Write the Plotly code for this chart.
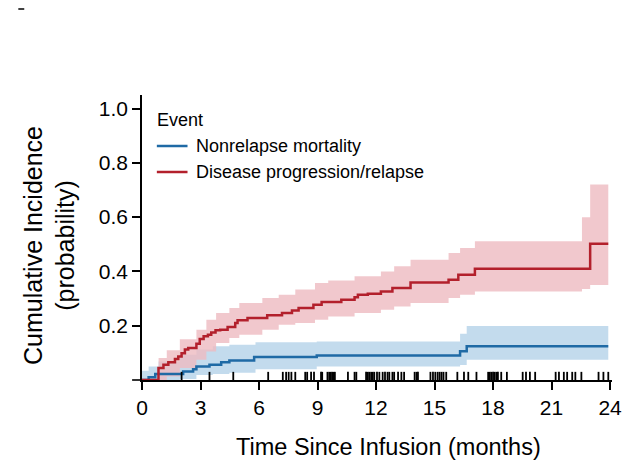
import plotly.graph_objects as go

# ---------------- data (months, cumulative incidence) ----------------
series_names = ["Nonrelapse mortality", "Disease progression/relapse"]
legend_title = "Event"

nrm_t = [0, 0.34, 0.68, 2.11, 2.62, 2.79, 3.46, 4.06, 4.48, 5.75, 8.96, 16.31, 16.65, 23.91]
nrm_v = [0, 0.010, 0.022, 0.031, 0.040, 0.050, 0.056, 0.065, 0.072, 0.085, 0.090, 0.106, 0.124, 0.124]

nrm_band_t = [0, 0.34, 0.85, 1.94, 2.79, 3.63, 4.48, 5.82, 8.96, 16.31, 16.65, 23.91]
nrm_lo = [0, 0, 0, 0.004, 0.018, 0.022, 0.027, 0.040, 0.050, 0.055, 0.075, 0.075]
nrm_hi = [0.034, 0.050, 0.068, 0.093, 0.112, 0.124, 0.130, 0.139, 0.142, 0.170, 0.199, 0.199]

rel_t = [0, 0.845, 1.10, 1.35, 1.69, 1.86, 2.03, 2.20, 2.37, 2.79,
         2.96, 3.16, 3.38, 3.55, 3.77, 4.01, 4.39, 4.78, 4.90, 5.41,
         6.42, 7.18, 7.69, 8.03, 8.79, 9.21, 10.22, 10.90, 11.07, 11.58,
         12.25, 12.84, 13.77, 15.72, 16.22, 17.07, 22.98, 23.91]
rel_v = [0, 0.044, 0.056, 0.065, 0.077, 0.087, 0.099, 0.112, 0.118, 0.134,
         0.151, 0.161, 0.167, 0.175, 0.183, 0.185, 0.195, 0.210, 0.220, 0.228,
         0.239, 0.247, 0.256, 0.265, 0.277, 0.287, 0.296, 0.305, 0.314, 0.318,
         0.326, 0.339, 0.359, 0.369, 0.388, 0.410, 0.502, 0.502]

rel_band_t = [0.85, 1.27, 1.94, 2.79, 3.30, 3.80, 4.48, 4.99, 6.17, 7.01, 7.86, 8.87,
              9.55, 10.90, 12.25, 12.93, 13.77, 15.72, 16.31, 17.07, 22.56, 22.98, 23.91]
rel_lo = [0.0, 0.013, 0.044, 0.075, 0.105, 0.136, 0.155, 0.167, 0.185, 0.204, 0.210, 0.222,
          0.234, 0.247, 0.259, 0.271, 0.284, 0.302, 0.314, 0.326, 0.335, 0.350, 0.350]
rel_hi = [0.081, 0.110, 0.150, 0.185, 0.222, 0.247, 0.265, 0.284, 0.302, 0.314, 0.333, 0.357,
          0.367, 0.382, 0.400, 0.419, 0.443, 0.468, 0.486, 0.511, 0.600, 0.720, 0.720]

censor_t = [2.03, 3.46, 4.68, 6.47, 7.22, 7.39, 7.52, 7.66, 7.86, 8.37, 8.47, 8.67, 8.82,
            9.18, 9.24, 9.51, 9.60, 9.68, 9.75, 9.82, 9.89, 10.56, 10.90, 10.99,
            11.49, 11.58, 11.66, 11.75, 11.83, 11.91, 12.05, 12.17, 12.34, 12.46,
            12.59, 12.68, 12.84, 12.93, 13.13, 13.30, 13.44, 13.98, 14.08, 14.15,
            14.79, 14.92, 15.04, 15.16, 15.26, 15.36, 15.46, 15.60, 16.17, 16.51,
            16.73, 17.15, 17.75, 17.83, 17.91, 18.00, 18.08, 18.17, 18.25, 18.42,
            18.71, 19.52, 19.69, 19.89, 20.16, 21.21, 21.38, 21.63, 21.80, 22.06,
            22.22, 22.53, 23.41, 23.66, 23.91]
rug_height = 0.03

x_ticks = [0, 3, 6, 9, 12, 15, 18, 21, 24]
y_ticks = [0.2, 0.4, 0.6, 0.8, 1.0]
y_tick_text = ["0.2", "0.4", "0.6", "0.8", "1.0"]

x_title = "Time Since Infusion (months)"
y_title = "Cumulative Incidence<br>(probability)"

# ---------------- styles ----------------
BLUE = "#1f6aa5"
RED = "#b3202c"
BLUE_BAND = "rgba(180,210,232,0.8)"
RED_BAND = "rgba(238,186,193,0.8)"
TITLE_FONT = "Liberation Sans, Arial, sans-serif"
TICK_FONT = "Liberation Sans, Arial, sans-serif"

W, H = 634, 462
L, R, T, B = 142, 17, 95, 82


def px(x):
    return (x - L) / (W - L - R)


def py(y):
    return (H - B - y) / (H - T - B)


fig = go.Figure()

# confidence bands
fig.add_trace(go.Scatter(x=nrm_band_t, y=nrm_lo, mode="lines", line=dict(width=0, shape="hv"),
                         showlegend=False, hoverinfo="skip"))
fig.add_trace(go.Scatter(x=nrm_band_t, y=nrm_hi, mode="lines", line=dict(width=0, shape="hv"),
                         fill="tonexty", fillcolor=BLUE_BAND, showlegend=False, hoverinfo="skip"))
fig.add_trace(go.Scatter(x=rel_band_t, y=rel_lo, mode="lines", line=dict(width=0, shape="hv"),
                         showlegend=False, hoverinfo="skip"))
fig.add_trace(go.Scatter(x=rel_band_t, y=rel_hi, mode="lines", line=dict(width=0, shape="hv"),
                         fill="tonexty", fillcolor=RED_BAND, showlegend=False, hoverinfo="skip"))

# step curves
fig.add_trace(go.Scatter(x=nrm_t, y=nrm_v, mode="lines", name=series_names[0],
                         line=dict(color=BLUE, width=2.5, shape="hv"), showlegend=False))
fig.add_trace(go.Scatter(x=rel_t, y=rel_v, mode="lines", name=series_names[1],
                         line=dict(color=RED, width=2.5, shape="hv"), showlegend=False))

# censoring rug
rx, ry = [], []
for t in censor_t:
    rx += [t, t, None]
    ry += [0, rug_height, None]
fig.add_trace(go.Scatter(x=rx, y=ry, mode="lines", line=dict(color="black", width=1.8),
                         showlegend=False, hoverinfo="skip"))

shapes = [
    dict(type="line", xref="paper", yref="paper", x0=px(132), x1=0, y0=0, y1=0,
         line=dict(color="black", width=1.6)),
    dict(type="line", xref="paper", yref="paper", x0=px(17), x1=px(23), y0=py(9), y1=py(9),
         line=dict(color="black", width=1.5)),
    dict(type="line", xref="paper", yref="paper", x0=px(157), x1=px(188), y0=py(146), y1=py(146),
         line=dict(color=BLUE, width=2.5)),
    dict(type="line", xref="paper", yref="paper", x0=px(157), x1=px(188), y0=py(172), y1=py(172),
         line=dict(color=RED, width=2.5)),
]

LEG_FONT = dict(family=TICK_FONT, size=18, color="black")
annotations = [
    dict(text=legend_title, xref="paper", yref="paper", x=px(155), y=py(120), xanchor="left",
         yanchor="middle", showarrow=False, font=LEG_FONT),
    dict(text=series_names[0], xref="paper", yref="paper", x=px(195), y=py(146), xanchor="left",
         yanchor="middle", showarrow=False, font=LEG_FONT),
    dict(text=series_names[1], xref="paper", yref="paper", x=px(195), y=py(172), xanchor="left",
         yanchor="middle", showarrow=False, font=LEG_FONT),
    dict(text=x_title, xref="paper", yref="paper", x=px(391), y=py(447), xanchor="center",
         yanchor="middle", showarrow=False, font=dict(family=TITLE_FONT, size=23.5, color="black")),
    dict(text=y_title, xref="paper", yref="paper", x=px(48), y=py(245), xanchor="center",
         yanchor="middle", showarrow=False, textangle=-90,
         font=dict(family=TITLE_FONT, size=25, color="black")),
]

fig.update_layout(
    width=W, height=H,
    margin=dict(l=L, r=R, t=T, b=B),
    paper_bgcolor="white", plot_bgcolor="white",
    shapes=shapes, annotations=annotations,
    showlegend=False,
    xaxis=dict(range=[0, 24.1], tickvals=x_ticks, ticktext=[str(v) for v in x_ticks],
               showgrid=False, zeroline=False, showline=True, linecolor="black", linewidth=1.6,
               ticks="outside", ticklen=8, tickwidth=1.6, tickcolor="black",
               tickfont=dict(family=TICK_FONT, size=21, color="black")),
    yaxis=dict(range=[0, 1.05], tickvals=y_ticks, ticktext=y_tick_text,
               showgrid=False, zeroline=False, showline=True, linecolor="black", linewidth=1.6,
               ticks="outside", ticklen=8, tickwidth=1.6, tickcolor="black",
               tickfont=dict(family=TICK_FONT, size=21, color="black")),
)

fig.write_html("out.html")
